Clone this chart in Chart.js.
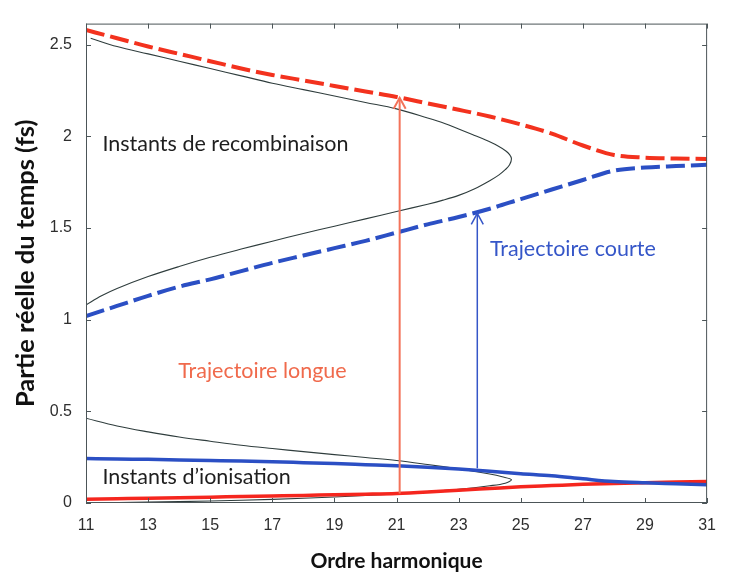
<!DOCTYPE html>
<html>
<head>
<meta charset="utf-8">
<script src="https://cdn.jsdelivr.net/npm/chart.js@4/dist/chart.umd.min.js"></script>
<style>
  html, body { margin: 0; padding: 0; background: #fff; }
  #wrap { width: 729px; height: 574px; }
</style>
</head>
<body>
<div id="wrap"><canvas id="tempsChart"></canvas></div>
<script>
// ordre harmonique (abscisse commune des trajectoires quantiques)
const harmoniques = [11, 12, 13, 14, 15, 16, 17, 18, 19, 20, 21, 22, 23, 24, 25, 26, 27, 28, 29, 30, 31];

// instants de recombinaison (fs)
const recombLongue = [2.58, 2.535, 2.49, 2.45, 2.41, 2.37, 2.335, 2.305, 2.275, 2.245, 2.215, 2.18, 2.145, 2.108, 2.065, 2.015, 1.95, 1.898, 1.884, 1.879, 1.877];
const recombCourte = [1.02, 1.075, 1.13, 1.18, 1.22, 1.265, 1.31, 1.35, 1.39, 1.43, 1.475, 1.52, 1.56, 1.605, 1.658, 1.71, 1.762, 1.813, 1.83, 1.838, 1.845];

// instants d'ionisation (fs)
const ionisLongue = [0.02, 0.023, 0.026, 0.029, 0.032, 0.035, 0.038, 0.041, 0.045, 0.048, 0.052, 0.06, 0.07, 0.079, 0.088, 0.095, 0.102, 0.107, 0.111, 0.114, 0.117];
const ionisCourte = [0.243, 0.24, 0.238, 0.235, 0.232, 0.229, 0.225, 0.22, 0.215, 0.209, 0.203, 0.195, 0.185, 0.173, 0.16, 0.148, 0.132, 0.117, 0.11, 0.105, 0.1];

// modele classique : courbes en "bec", x et y separes
const classRecombX = [11.15, 12, 13, 14, 15, 16, 17, 18, 19, 20, 21, 22, 22.55, 23, 23.44, 23.87, 24.24, 24.52, 24.64, 24.7, 24.64, 24.5, 24.3, 24, 23.5, 23, 22.5, 22, 21, 20, 19, 18, 17, 16, 15, 14, 13, 12, 11.5, 11];
const classRecombY = [2.535, 2.49, 2.45, 2.41, 2.37, 2.33, 2.29, 2.255, 2.22, 2.185, 2.15, 2.10, 2.07, 2.04, 2.01, 1.98, 1.95, 1.92, 1.90, 1.878, 1.845, 1.818, 1.79, 1.758, 1.713, 1.678, 1.652, 1.63, 1.59, 1.55, 1.51, 1.47, 1.428, 1.385, 1.34, 1.29, 1.235, 1.17, 1.13, 1.08];
const classIonisX = [11, 12, 13, 14, 15, 16, 17, 18, 19, 20, 21, 22, 23, 23.5, 24, 24.4, 24.7, 24.5, 24, 23, 22, 21, 19, 17, 15, 13, 11.1];
const classIonisY = [0.462, 0.42, 0.388, 0.36, 0.337, 0.315, 0.297, 0.28, 0.264, 0.248, 0.232, 0.21, 0.186, 0.172, 0.158, 0.143, 0.127, 0.108, 0.094, 0.075, 0.062, 0.05, 0.033, 0.02, 0.011, 0.005, 0.0];

// fleches : ionisation -> recombinaison
const flecheLongueX = [21.1, 21.1];
const flecheLongueY = [0.052, 2.21];
const flecheCourteX = [23.6, 23.6];
const flecheCourteY = [0.19, 1.58];

const xTicks = [11, 13, 15, 17, 19, 21, 23, 25, 27, 29, 31];
const yTicks = [0, 0.5, 1, 1.5, 2, 2.5];

const ROUGE = '#f3321e';
const BLEU = '#2b4fc4';
const NOIR = '#2f3d3d';

const pts = (xs, ys) => xs.map((x, i) => ({ x: x, y: ys[i] }));

const fleches = [
    { xs: flecheLongueX, ys: flecheLongueY, color: '#f3735a', width: 2 },
    { xs: flecheCourteX, ys: flecheCourteY, color: '#3556c8', width: 1.5 }
];

// textes poses a gauche, sur leur ligne de base
const textes = [
    { text: 'Instants de recombinaison', x: 11.53, y: 1.921, color: '#1e1e1e' },
    { text: 'Instants d\u2019ionisation', x: 11.53, y: 0.106, color: '#1e1e1e' },
    { text: 'Trajectoire longue', x: 13.97, y: 0.683, color: '#f06a4c' },
    { text: 'Trajectoire courte', x: 24.01, y: 1.349, color: '#3556c8' }
];

// cadre, graduations interieures, pointes de fleches, textes
const decorPlugin = {
    id: 'decor',
    afterDatasetsDraw(chart) {
        const { ctx, chartArea: a, scales: { x, y } } = chart;
        ctx.save();

        ctx.strokeStyle = '#4c5558';
        ctx.lineWidth = 1;
        ctx.strokeRect(a.left + 0.5, a.top + 0.5, a.right - a.left - 1, a.bottom - a.top - 1);
        const tl = 5;
        ctx.beginPath();
        xTicks.forEach(v => {
            const px = Math.round(x.getPixelForValue(v)) + 0.5;
            ctx.moveTo(px, a.bottom); ctx.lineTo(px, a.bottom - tl);
            ctx.moveTo(px, a.top); ctx.lineTo(px, a.top + tl);
        });
        yTicks.forEach(v => {
            const py = Math.round(y.getPixelForValue(v)) + 0.5;
            ctx.moveTo(a.left, py); ctx.lineTo(a.left + tl, py);
            ctx.moveTo(a.right, py); ctx.lineTo(a.right - tl, py);
        });
        ctx.stroke();

        fleches.forEach(f => {
            const px = x.getPixelForValue(f.xs[1]);
            const py = y.getPixelForValue(f.ys[1]);
            ctx.strokeStyle = f.color;
            ctx.lineWidth = f.width;
            ctx.beginPath();
            ctx.moveTo(px - 6, py + 11);
            ctx.lineTo(px, py);
            ctx.lineTo(px + 6, py + 11);
            ctx.stroke();
        });

        ctx.font = '21.5px Lato';
        ctx.textBaseline = 'alphabetic';
        ctx.textAlign = 'left';
        textes.forEach(t => {
            ctx.fillStyle = t.color;
            ctx.fillText(t.text, x.getPixelForValue(t.x), y.getPixelForValue(t.y));
        });
        ctx.restore();
    }
};

const ligne = (label, data, color, width, dash, lisse) => ({
    label: label,
    data: data,
    borderColor: color,
    borderWidth: width,
    borderDash: dash || [],
    borderCapStyle: 'butt',
    pointRadius: 0,
    showLine: true,
    fill: false,
    cubicInterpolationMode: lisse ? 'monotone' : 'default',
    tension: 0.35
});

new Chart(document.getElementById('tempsChart'), {
    type: 'scatter',
    data: {
        datasets: [
            ligne('fleche longue', pts(flecheLongueX, flecheLongueY), '#f3735a', 2),
            ligne('fleche courte', pts(flecheCourteX, flecheCourteY), '#3556c8', 1.5),
            ligne('recombinaison longue', pts(harmoniques, recombLongue), ROUGE, 4, [19, 6], true),
            ligne('recombinaison courte', pts(harmoniques, recombCourte), BLEU, 4, [19, 6], true),
            ligne('ionisation courte', pts(harmoniques, ionisCourte), BLEU, 3.5, null, true),
            ligne('ionisation longue', pts(harmoniques, ionisLongue), '#f5261e', 3.5, null, true),
            ligne('recombinaison classique', pts(classRecombX, classRecombY), NOIR, 1.1),
            ligne('ionisation classique', pts(classIonisX, classIonisY), NOIR, 1.1)
        ]
    },
    options: {
        responsive: true,
        maintainAspectRatio: false,
        animation: false,
        layout: { padding: { top: 9, right: 9, left: 0, bottom: 0 } },
        plugins: { legend: { display: false }, tooltip: { enabled: false } },
        scales: {
            x: {
                type: 'linear',
                min: 11,
                max: 31,
                afterBuildTicks: s => { s.ticks = xTicks.map(v => ({ value: v })); },
                afterFit: s => { s.height = 71; },
                grid: { display: false, drawTicks: false },
                border: { display: false },
                ticks: {
                    padding: 13,
                    color: '#2e2e2e',
                    font: { family: 'Liberation Sans', size: 16 },
                    callback: v => String(v)
                },
                title: {
                    display: true,
                    text: 'Ordre harmonique',
                    color: '#111',
                    font: { family: 'Lato', size: 21, weight: 'bold' },
                    padding: { top: 0, bottom: 0 }
                }
            },
            y: {
                type: 'linear',
                min: 0,
                max: 2.615,
                afterBuildTicks: s => { s.ticks = yTicks.map(v => ({ value: v })); },
                afterFit: s => { s.width = 86; },
                grid: { display: false, drawTicks: false },
                border: { display: false },
                ticks: {
                    padding: 14,
                    color: '#2e2e2e',
                    font: { family: 'Liberation Sans', size: 16 },
                    callback: v => String(v)
                },
                title: {
                    display: true,
                    text: 'Partie réelle du temps (fs)',
                    color: '#111',
                    font: { family: 'Lato', size: 25.5, weight: 'bold' },
                    padding: { top: 10, bottom: 0 }
                }
            }
        }
    },
    plugins: [decorPlugin]
});
</script>
</body>
</html>
